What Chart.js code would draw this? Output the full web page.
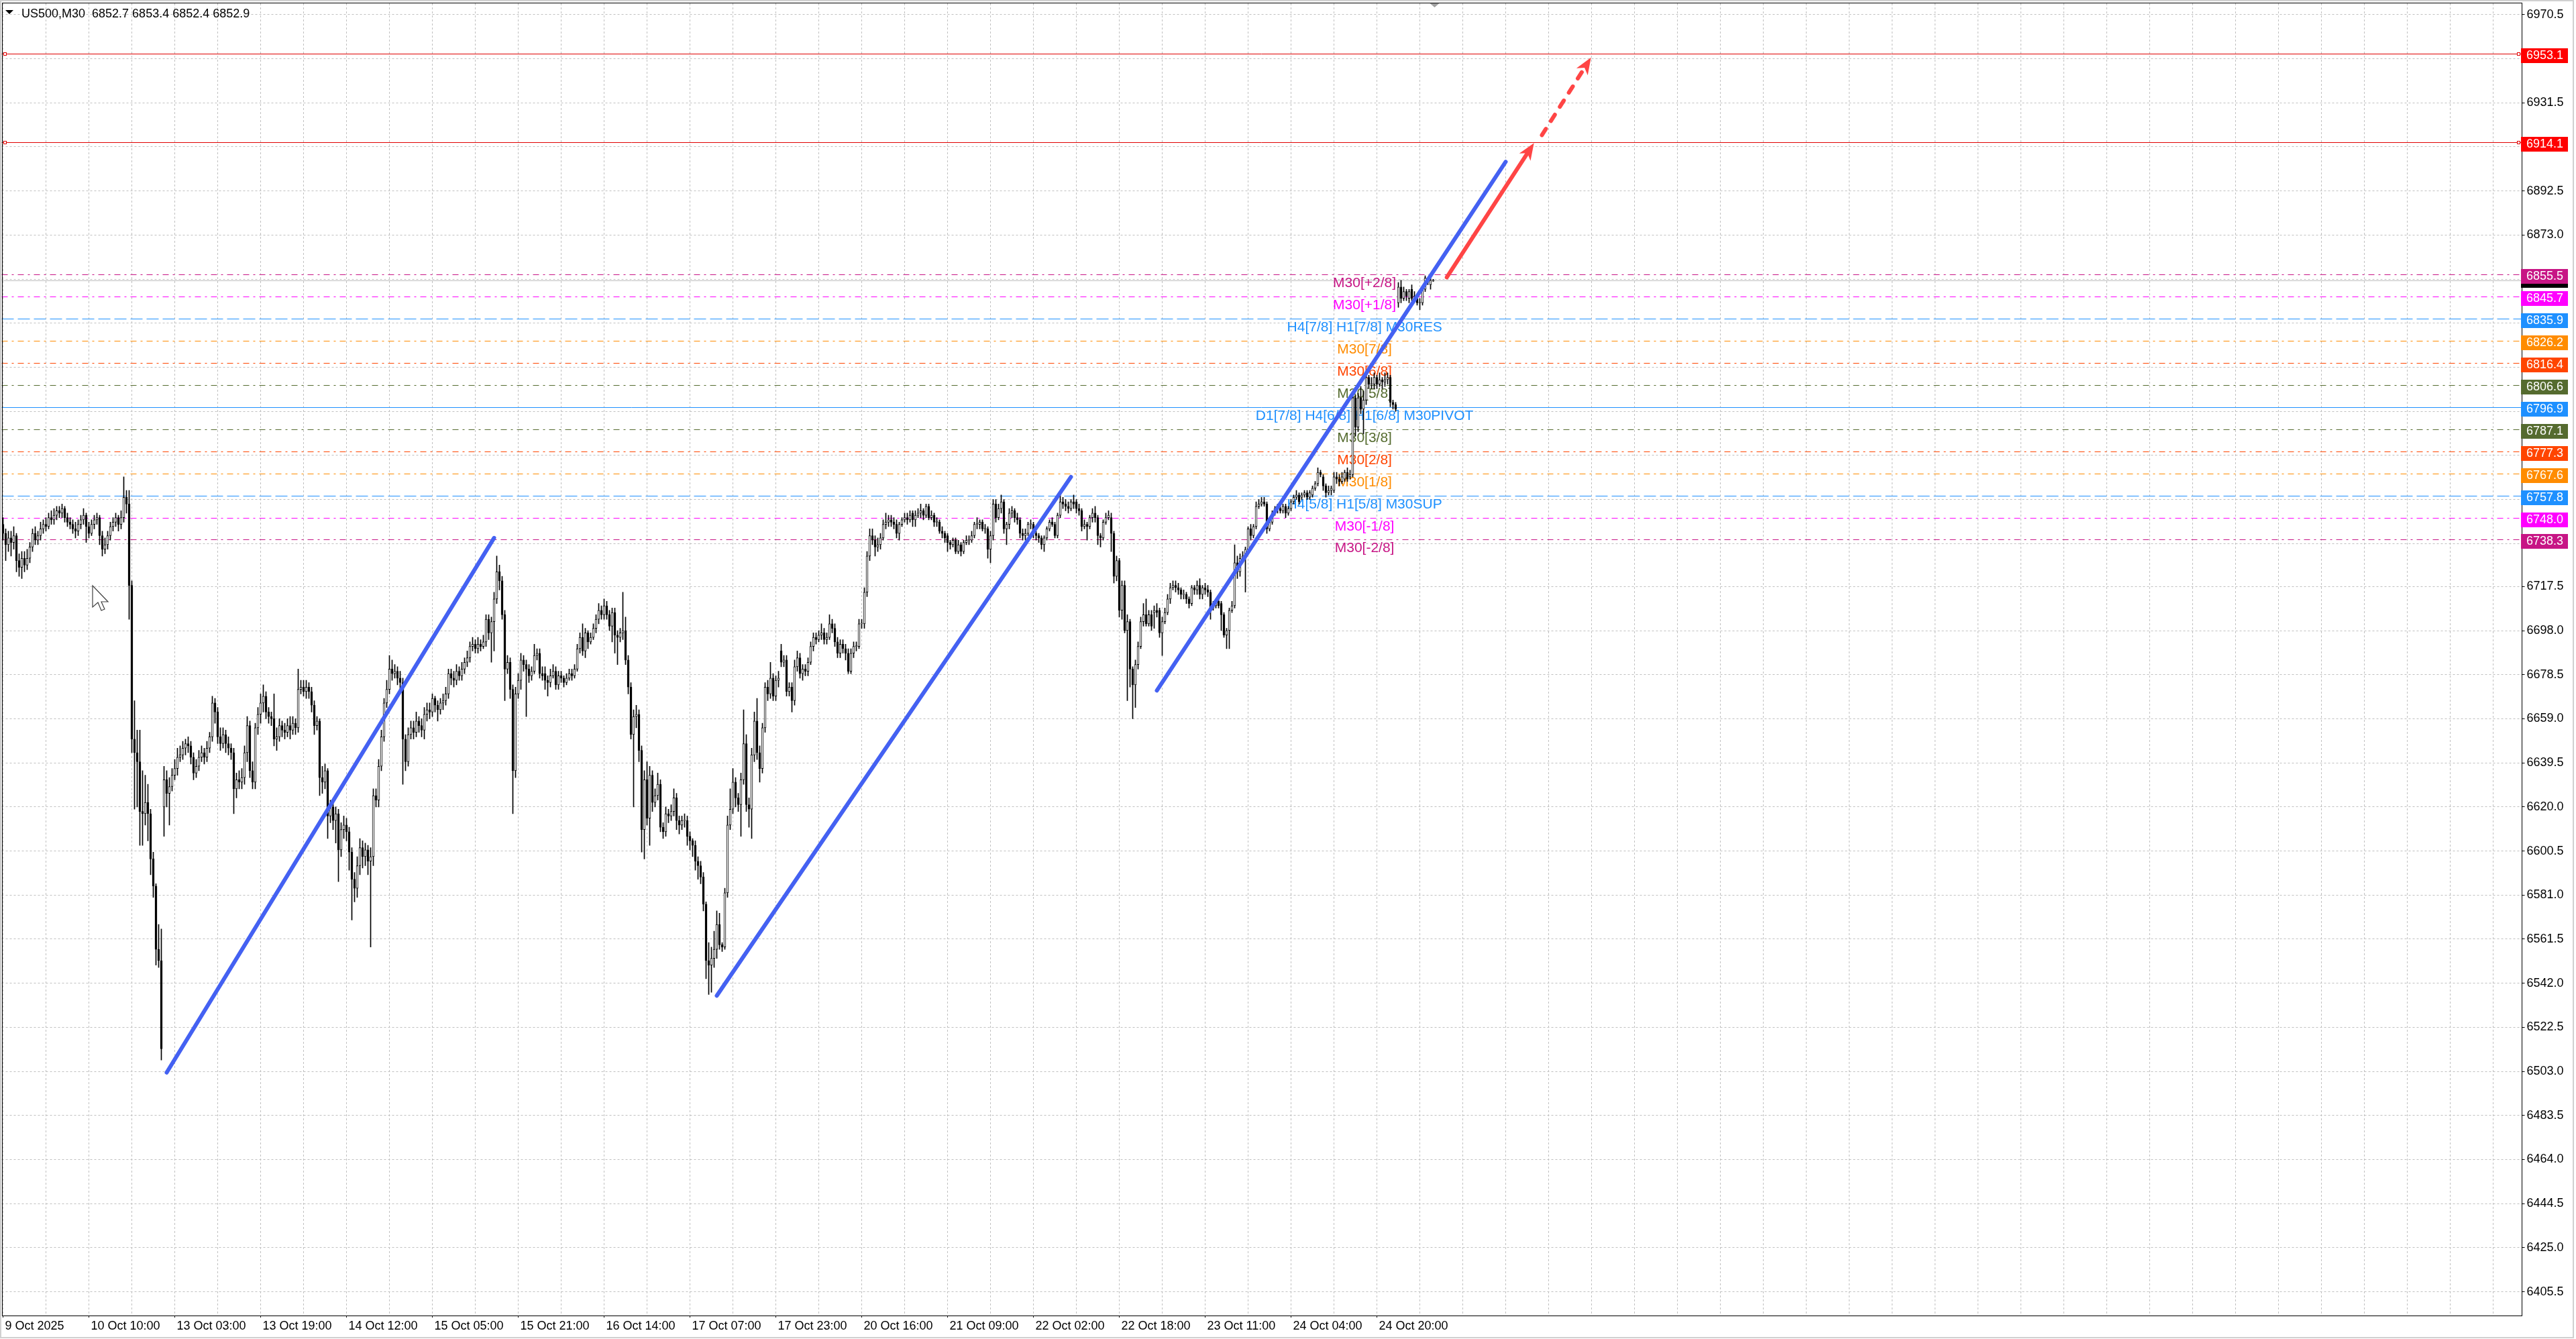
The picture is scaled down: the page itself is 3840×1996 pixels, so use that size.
<!DOCTYPE html>
<html>
<head>
<meta charset="utf-8">
<title>US500,M30</title>
<script src="https://cdn.jsdelivr.net/npm/chart.js@4.4.1/dist/chart.umd.min.js"></script>
<style>
  html, body { margin: 0; padding: 0; background: #ffffff; }
  canvas { display: block; }
</style>
</head>
<body>
<canvas id="priceChart" width="3840" height="1996"></canvas>
<script>
const symbolTitle = 'US500,M30';
const lastQuote = ['6852.7', '6853.4', '6852.4', '6852.9'];

// time labels, one every 32 M30 bars
const timeLabels = ['9 Oct 2025', '10 Oct 10:00', '13 Oct 03:00', '13 Oct 19:00', '14 Oct 12:00', '15 Oct 05:00',
  '15 Oct 21:00', '16 Oct 14:00', '17 Oct 07:00', '17 Oct 23:00', '20 Oct 16:00', '21 Oct 09:00',
  '22 Oct 02:00', '22 Oct 18:00', '23 Oct 11:00', '24 Oct 04:00', '24 Oct 20:00'];
const labelEvery = 32;
const gridEvery = 16;
const slotCount = 939; // bars + empty shift area on the right

const priceTicks = [6405.5, 6425.0, 6444.5, 6464.0, 6483.5, 6503.0, 6522.5, 6542.0, 6561.5, 6581.0,
  6600.5, 6620.0, 6639.5, 6659.0, 6678.5, 6698.0, 6717.5, 6736.5, 6756.0, 6775.5,
  6795.0, 6814.5, 6834.0, 6853.5, 6873.0, 6892.5, 6912.0, 6931.5, 6951.0, 6970.5];

// OHLC of the M30 bars, oldest first
const opens = [
  6745,6741,6736,6739,6737,6740,6729,6726,6730,6727, // 0
  6730,6735,6741,6738,6740,6743,6745,6744,6748,6747,
  6749,6751,6750,6752,6748,6746,6745,6743,6742,6745,
  6747,6749,6744,6741,6745,6747,6748,6740,6734,6736,
  6740,6744,6746,6748,6745,6748,6757,6754,6718,6650,
  6644,6640,6618,6617,6622,6617,6597,6585,6557,6552, // 50
  6620,6632,6626,6629,6634,6637,6642,6643,6646,6648,
  6647,6642,6635,6638,6642,6644,6642,6646,6651,6666,
  6662,6651,6648,6652,6648,6646,6644,6628,6632,6631,
  6633,6644,6656,6636,6631,6655,6661,6666,6669,6662,
  6660,6659,6650,6651,6656,6654,6653,6656,6654,6657, // 100
  6655,6672,6673,6671,6673,6671,6665,6656,6658,6633,
  6631,6636,6616,6620,6614,6617,6601,6610,6612,6609,
  6600,6588,6584,6594,6602,6598,6601,6596,6598,6625,
  6623,6638,6651,6666,6672,6681,6679,6680,6677,6675,
  6650,6640,6652,6655,6653,6658,6656,6654,6661,6663, // 150
  6662,6668,6665,6663,6666,6667,6670,6679,6677,6676,
  6680,6678,6681,6684,6686,6691,6692,6690,6692,6691,
  6693,6703,6697,6702,6712,6724,6720,6705,6681,6684,
  6672,6636,6670,6676,6685,6683,6681,6678,6680,6687,
  6688,6679,6679,6676,6675,6678,6680,6674,6678,6677, // 200
  6675,6677,6679,6678,6681,6690,6695,6689,6697,6693,
  6695,6699,6703,6707,6705,6709,6705,6700,6706,6696,
  6695,6697,6698,6685,6673,6652,6660,6661,6645,6610,
  6632,6615,6634,6622,6625,6630,6611,6609,6617,6616,
  6618,6624,6614,6612,6614,6614,6607,6605,6603,6596, // 250
  6594,6589,6577,6552,6550,6553,6557,6568,6559,6558,
  6582,6612,6619,6631,6624,6621,6632,6648,6621,6619,
  6643,6658,6644,6637,6655,6673,6670,6677,6669,6676,
  6689,6684,6685,6671,6673,6667,6682,6686,6679,6681,
  6680,6684,6691,6695,6694,6696,6697,6694,6695,6701, // 300
  6699,6693,6688,6692,6690,6688,6680,6688,6691,6691,
  6701,6701,6715,6731,6740,6738,6735,6736,6739,6745,
  6746,6747,6746,6745,6741,6745,6747,6748,6747,6750,
  6747,6749,6750,6751,6749,6753,6748,6749,6746,6746,
  6742,6741,6740,6737,6736,6738,6733,6736,6733,6737, // 350
  6738,6738,6740,6745,6745,6746,6743,6743,6734,6740,
  6754,6748,6752,6755,6743,6745,6750,6751,6748,6747,
  6741,6740,6741,6745,6745,6741,6740,6739,6736,6739,
  6743,6746,6745,6740,6749,6755,6754,6753,6752,6755,
  6755,6752,6751,6744,6745,6744,6748,6750,6748,6740, // 400
  6739,6746,6748,6748,6741,6722,6729,6707,6718,6698,
  6702,6681,6674,6683,6691,6702,6705,6701,6705,6706,
  6707,6707,6697,6702,6706,6712,6717,6718,6717,6716,
  6714,6714,6712,6710,6717,6716,6718,6714,6717,6716,
  6715,6708,6709,6711,6710,6705,6696,6698,6707,6709, // 450
  6728,6724,6730,6731,6734,6743,6740,6744,6753,6754,
  6755,6754,6743,6746,6750,6752,6752,6751,6753,6750,
  6752,6755,6757,6758,6757,6758,6759,6757,6758,6761,
  6763,6768,6766,6762,6759,6760,6760,6766,6765,6764,
  6765,6768,6766,6767,6801,6788,6801,6796,6800,6810, // 500
  6807,6807,6810,6807,6809,6808,6809,6810,6799,6798,
  6843,6850,6845,6848,6845,6849,6845,6845,6843,6843,
  6849,6853,6851,6852.7
];
const highs = [
  6748,6743,6742,6742,6744,6741,6732,6733,6733,6734,
  6737,6743,6744,6742,6746,6747,6748,6750,6751,6752,
  6753,6753,6754,6753,6750,6748,6747,6746,6747,6749,
  6752,6750,6746,6747,6749,6750,6749,6742,6739,6742,
  6746,6748,6750,6749,6751,6766,6760,6760,6720,6667,
  6654,6654,6636,6634,6630,6619,6600,6586,6568,6566,
  6638,6636,6633,6637,6641,6646,6647,6649,6650,6651,
  6649,6644,6641,6645,6647,6646,6649,6653,6669,6668,
  6664,6655,6655,6654,6651,6648,6646,6635,6636,6637,
  6647,6660,6658,6640,6657,6664,6670,6674,6671,6664,
  6662,6670,6655,6659,6658,6657,6659,6660,6660,6659,
  6681,6676,6676,6676,6675,6673,6667,6660,6659,6638,
  6639,6637,6623,6622,6620,6619,6613,6616,6615,6611,
  6602,6591,6598,6606,6605,6604,6603,6602,6628,6628,
  6641,6654,6668,6676,6687,6685,6683,6682,6680,6677,
  6652,6655,6658,6658,6662,6660,6659,6664,6666,6666,
  6670,6669,6667,6668,6670,6673,6681,6681,6680,6683,
  6682,6684,6686,6689,6693,6695,6694,6695,6694,6696,
  6705,6705,6704,6715,6731,6727,6722,6707,6687,6686,
  6674,6673,6679,6688,6687,6685,6683,6682,6692,6690,
  6690,6682,6682,6678,6681,6683,6682,6680,6680,6678,
  6679,6681,6681,6683,6692,6697,6701,6699,6698,6697,
  6701,6705,6710,6709,6712,6711,6707,6708,6708,6698,
  6699,6715,6704,6687,6675,6663,6665,6663,6647,6636,
  6640,6638,6636,6628,6635,6632,6613,6620,6619,6621,
  6628,6626,6616,6616,6617,6616,6609,6606,6605,6598,
  6596,6591,6578,6560,6558,6565,6574,6573,6560,6584,
  6616,6628,6637,6633,6626,6635,6663,6652,6624,6646,
  6662,6668,6647,6657,6675,6676,6684,6679,6678,6680,
  6692,6687,6687,6675,6675,6685,6689,6688,6683,6683,
  6686,6693,6697,6697,6698,6701,6699,6697,6705,6703,
  6701,6695,6694,6694,6692,6690,6690,6693,6693,6703,
  6703,6717,6733,6743,6743,6740,6739,6741,6747,6750,
  6749,6749,6748,6747,6746,6748,6750,6750,6751,6751,
  6751,6752,6754,6752,6754,6754,6751,6750,6748,6747,
  6744,6742,6741,6738,6739,6739,6738,6737,6738,6740,
  6740,6742,6746,6748,6747,6747,6745,6744,6742,6756,
  6756,6754,6758,6756,6746,6752,6753,6752,6750,6748,
  6743,6743,6746,6747,6746,6742,6741,6740,6740,6744,
  6747,6748,6746,6750,6758,6757,6756,6755,6756,6758,
  6756,6754,6752,6747,6746,6749,6752,6753,6749,6741,
  6747,6750,6751,6750,6742,6731,6730,6720,6720,6705,
  6703,6682,6685,6693,6704,6710,6712,6707,6707,6709,
  6710,6708,6704,6708,6714,6719,6720,6720,6719,6717,
  6716,6715,6713,6718,6718,6720,6721,6718,6719,6718,
  6716,6711,6712,6712,6711,6706,6699,6708,6711,6736,
  6731,6732,6733,6735,6744,6745,6745,6755,6756,6757,
  6757,6755,6748,6751,6753,6754,6753,6754,6754,6753,
  6756,6758,6760,6759,6759,6760,6760,6760,6762,6764,
  6770,6769,6767,6763,6762,6762,6768,6768,6767,6768,
  6769,6770,6769,6803,6802,6803,6806,6804,6812,6811,
  6810,6812,6811,6812,6810,6812,6812,6811,6800,6799,
  6852,6853,6850,6849,6849,6851,6848,6846,6845,6850,
  6855,6854,6854,6853.4
];
const lows = [
  6738,6729,6733,6731,6734,6724,6722,6721,6724,6725,
  6728,6733,6736,6736,6738,6741,6742,6743,6745,6745,
  6747,6748,6748,6746,6744,6743,6741,6739,6740,6743,
  6745,6737,6739,6740,6743,6745,6736,6731,6732,6734,
  6738,6742,6744,6742,6743,6746,6750,6703,6644,6619,
  6620,6603,6603,6612,6605,6590,6580,6550,6549,6508,
  6607,6620,6612,6627,6632,6634,6640,6641,6643,6644,
  6639,6632,6633,6636,6640,6639,6640,6644,6649,6657,
  6648,6645,6646,6644,6643,6641,6617,6624,6628,6628,
  6630,6640,6633,6628,6628,6652,6657,6662,6659,6657,
  6656,6647,6645,6649,6651,6650,6651,6650,6652,6652,
  6653,6670,6669,6668,6668,6662,6652,6654,6625,6626,
  6628,6606,6613,6610,6604,6587,6598,6606,6605,6592,
  6570,6578,6580,6590,6593,6594,6590,6558,6594,6620,
  6620,6636,6649,6664,6670,6676,6677,6674,6672,6630,
  6636,6638,6650,6650,6651,6653,6651,6650,6658,6659,
  6660,6662,6658,6661,6663,6665,6668,6674,6673,6674,
  6676,6676,6679,6682,6684,6689,6688,6688,6689,6690,
  6691,6694,6684,6689,6710,6716,6703,6667,6679,6668,
  6617,6633,6668,6672,6680,6660,6675,6676,6679,6685,
  6677,6676,6672,6669,6673,6677,6672,6672,6675,6673,
  6674,6676,6676,6677,6680,6688,6687,6686,6690,6692,
  6694,6697,6701,6703,6703,6703,6698,6693,6688,6683,
  6693,6694,6683,6670,6650,6620,6655,6640,6600,6597,
  6612,6603,6618,6620,6623,6609,6606,6607,6613,6614,
  6616,6610,6608,6610,6611,6603,6601,6598,6592,6588,
  6586,6574,6544,6537,6538,6549,6553,6557,6556,6557,
  6580,6610,6617,6620,6618,6607,6630,6618,6611,6606,
  6640,6641,6631,6635,6653,6667,6668,6667,6667,6673,
  6682,6682,6669,6669,6662,6665,6680,6677,6676,6678,
  6678,6683,6689,6692,6693,6694,6692,6692,6694,6697,
  6691,6686,6686,6688,6685,6679,6679,6686,6689,6690,
  6699,6699,6713,6729,6736,6731,6733,6734,6738,6743,
  6744,6744,6743,6739,6738,6744,6746,6745,6746,6744,
  6744,6748,6748,6747,6748,6747,6747,6744,6744,6741,
  6739,6737,6733,6734,6735,6732,6732,6731,6732,6736,
  6736,6737,6739,6743,6743,6742,6741,6730,6728,6738,
  6746,6747,6750,6741,6736,6743,6748,6746,6745,6739,
  6738,6738,6740,6743,6739,6738,6737,6734,6733,6738,
  6742,6744,6739,6739,6748,6752,6751,6750,6751,6752,
  6750,6749,6742,6743,6738,6743,6746,6746,6736,6735,
  6738,6745,6747,6733,6719,6720,6704,6703,6697,6667,
  6673,6659,6664,6681,6690,6700,6700,6700,6698,6699,
  6704,6695,6687,6701,6705,6710,6716,6715,6714,6712,
  6712,6710,6708,6709,6714,6714,6712,6712,6714,6713,
  6703,6707,6708,6708,6698,6695,6690,6690,6706,6708,
  6721,6722,6728,6715,6733,6738,6739,6743,6752,6753,
  6753,6741,6742,6745,6749,6750,6750,6750,6748,6749,
  6751,6754,6756,6754,6756,6757,6756,6756,6757,6760,
  6762,6766,6760,6757,6758,6758,6759,6763,6762,6763,
  6764,6764,6765,6766,6784,6786,6794,6785,6798,6805,
  6805,6805,6805,6806,6805,6806,6807,6797,6796,6795,
  6841,6843,6844,6844,6843,6844,6844,6842,6840,6842,
  6848,6851,6849,6852.4
];
const closes = [
  6741,6736,6739,6737,6740,6729,6726,6730,6727,6730,
  6735,6741,6738,6740,6743,6745,6744,6748,6747,6749,
  6751,6750,6752,6748,6746,6745,6743,6742,6745,6747,
  6749,6744,6741,6745,6747,6748,6740,6734,6736,6740,
  6744,6746,6748,6745,6748,6757,6754,6718,6650,6644,
  6640,6618,6617,6622,6617,6597,6585,6557,6552,6513,
  6632,6626,6629,6634,6637,6642,6643,6646,6648,6647,
  6642,6635,6638,6642,6644,6642,6646,6651,6666,6662,
  6651,6648,6652,6648,6646,6644,6628,6632,6631,6633,
  6644,6656,6636,6631,6655,6661,6666,6669,6662,6660,
  6659,6650,6651,6656,6654,6653,6656,6654,6657,6655,
  6672,6673,6671,6673,6671,6665,6656,6658,6633,6631,
  6636,6616,6620,6614,6617,6601,6610,6612,6609,6600,
  6588,6584,6594,6602,6598,6601,6596,6598,6625,6623,
  6638,6651,6666,6672,6681,6679,6680,6677,6675,6650,
  6640,6652,6655,6653,6658,6656,6654,6661,6663,6662,
  6668,6665,6663,6666,6667,6670,6679,6677,6676,6680,
  6678,6681,6684,6686,6691,6692,6690,6692,6691,6693,
  6703,6697,6702,6712,6724,6720,6705,6681,6684,6672,
  6636,6670,6676,6685,6683,6681,6678,6680,6687,6688,
  6679,6678,6676,6675,6678,6680,6674,6678,6677,6675,
  6677,6679,6678,6681,6690,6695,6689,6697,6693,6695,
  6699,6703,6707,6705,6709,6705,6700,6706,6696,6695,
  6697,6698,6685,6673,6652,6660,6661,6645,6610,6632,
  6615,6634,6622,6625,6630,6611,6609,6617,6616,6618,
  6624,6614,6612,6614,6614,6607,6605,6603,6596,6594,
  6589,6577,6552,6550,6553,6557,6568,6559,6558,6582,
  6612,6619,6631,6624,6621,6632,6648,6621,6619,6643,
  6658,6644,6637,6655,6673,6670,6677,6669,6676,6677,
  6684,6685,6671,6673,6667,6682,6686,6679,6681,6680,
  6684,6691,6695,6694,6696,6697,6694,6695,6701,6699,
  6693,6688,6692,6690,6688,6680,6688,6691,6691,6701,
  6701,6715,6731,6740,6738,6735,6736,6739,6745,6746,
  6747,6746,6745,6741,6745,6747,6748,6747,6749,6747,
  6749,6750,6751,6749,6753,6748,6749,6746,6746,6742,
  6741,6739,6737,6736,6738,6733,6736,6733,6737,6738,
  6738,6740,6745,6745,6746,6743,6743,6734,6740,6754,
  6748,6752,6755,6743,6745,6750,6751,6748,6747,6741,
  6740,6741,6745,6745,6741,6740,6739,6736,6739,6743,
  6746,6745,6740,6749,6755,6754,6753,6752,6755,6754,
  6752,6751,6744,6745,6744,6748,6750,6748,6740,6739,
  6746,6748,6749,6741,6722,6729,6707,6718,6698,6702,
  6681,6674,6683,6691,6702,6705,6701,6705,6700,6707,
  6706,6697,6702,6706,6712,6717,6718,6717,6716,6714,
  6714,6712,6710,6717,6716,6718,6714,6717,6716,6715,
  6708,6709,6711,6709,6705,6696,6698,6707,6709,6728,
  6724,6730,6731,6734,6743,6740,6744,6753,6754,6755,
  6754,6743,6746,6750,6752,6752,6751,6753,6750,6752,
  6755,6757,6758,6755,6758,6759,6757,6759,6761,6763,
  6768,6767,6762,6759,6760,6761,6766,6765,6764,6766,
  6768,6765,6767,6801,6788,6801,6796,6800,6810,6807,
  6807,6810,6807,6809,6808,6809,6810,6799,6798,6796,
  6850,6845,6848,6846,6848,6845,6846,6843,6843,6849,
  6854,6852,6853,6852.9
];

// Murrey Math levels
const levelPrices = [6855.5, 6845.7, 6835.9, 6826.2, 6816.4, 6806.6, 6796.9, 6787.1, 6777.3, 6767.6, 6757.8, 6748.0, 6738.3];
const levelNames = ['M30[+2/8]', 'M30[+1/8]', 'H4[7/8] H1[7/8] M30RES', 'M30[7/8]', 'M30[6/8]', 'M30[5/8]',
  'D1[7/8] H4[6/8] H1[6/8] M30PIVOT', 'M30[3/8]', 'M30[2/8]', 'M30[1/8]', 'H4[5/8] H1[5/8] M30SUP', 'M30[-1/8]', 'M30[-2/8]'];
const levelColors = ['#C71585', '#FF00FF', '#1E90FF', '#FF8C00', '#FF4500', '#556B2F', '#1E90FF',
  '#556B2F', '#FF4500', '#FF8C00', '#1E90FF', '#FF00FF', '#C71585'];
const levelStyles = ['dashdot', 'dashdot', 'dash', 'dashdot', 'dashdot', 'dashdot', 'solid',
  'dashdot', 'dashdot', 'dashdot', 'dash', 'dashdot', 'dashdot'];
const levelLabelBar = 507.4;

// red target lines
const targetPrices = [6953.1, 6914.1];

// blue trend lines [bar, price]
const trendFrom = [[61, 6502.5], [266, 6536.5], [430, 6671.5]];
const trendTo = [[183, 6739.0], [398, 6766.0], [560, 6905.4]];

// red projection arrows [bar, price]
const solidArrow = [[538.05, 6854.3], [570.55, 6913.7]];
const dashedArrow = [[573.5, 6917.2], [591.8, 6951.5]];

const fontFamily = '"Liberation Sans", Arial, sans-serif';
const dashPatterns = { solid: [], dash: [18, 6], dashdot: [9, 6, 3, 6] };
const lastClose = closes[closes.length - 1];

const slots = Array.from({ length: slotCount }, (_, i) => i);
const wickData = lows.map((l, i) => [l, highs[i]]);
const bodyData = opens.map((o, i) => [o, closes[i]]);

const tagPrices = levelPrices.concat(targetPrices, [lastClose]);

function drawTag(ctx, yPix, bg, text, shift) {
    const top = Math.round(yPix) + shift - 11;
    ctx.fillStyle = bg;
    ctx.fillRect(3758, top, 70, 22);
    ctx.fillStyle = '#ffffff';
    ctx.fillText(text, 3766, top + 11.5);
}

function drawArrow(ctx, x1, y1, x2, y2, dash) {
    const ang = Math.atan2(y2 - y1, x2 - x1);
    const c = Math.cos(ang), s = Math.sin(ang);
    const headLen = 22, headHalf = 10;
    const bx = x2 - headLen * c, by = y2 - headLen * s;
    ctx.setLineDash(dash);
    ctx.beginPath();
    ctx.moveTo(x1, y1);
    ctx.lineTo(bx + 4 * c, by + 4 * s);
    ctx.stroke();
    ctx.setLineDash([]);
    ctx.beginPath();
    ctx.moveTo(x2, y2);
    ctx.lineTo(bx - 3 * c + headHalf * s, by - 3 * s - headHalf * c);
    ctx.lineTo(bx + 4 * c, by + 4 * s);
    ctx.lineTo(bx - 3 * c - headHalf * s, by - 3 * s + headHalf * c);
    ctx.closePath();
    ctx.fill();
}

const overlayPlugin = {
    id: 'overlay',
    beforeDraw(chart) {
        const ctx = chart.ctx;
        ctx.save();
        ctx.fillStyle = '#ffffff';
        ctx.fillRect(0, 0, chart.width, chart.height);
        ctx.restore();
    },
    beforeDatasetsDraw(chart) {
        const { ctx, chartArea: a, scales: { x, y } } = chart;
        ctx.save();
        ctx.lineWidth = 1;

        // bid line
        let py = Math.round(y.getPixelForValue(lastClose)) + 0.5;
        ctx.strokeStyle = '#C0C0C0';
        ctx.beginPath(); ctx.moveTo(a.left, py); ctx.lineTo(a.right, py); ctx.stroke();

        levelPrices.forEach((p, i) => {
            py = Math.round(y.getPixelForValue(p)) + 0.5;
            ctx.strokeStyle = levelColors[i];
            ctx.setLineDash(dashPatterns[levelStyles[i]]);
            ctx.beginPath(); ctx.moveTo(a.left, py); ctx.lineTo(a.right, py); ctx.stroke();
        });
        ctx.setLineDash([]);

        ctx.font = '21px ' + fontFamily;
        ctx.textAlign = 'center';
        ctx.textBaseline = 'alphabetic';
        const lx = x.getPixelForValue(levelLabelBar);
        levelPrices.forEach((p, i) => {
            ctx.fillStyle = levelColors[i];
            ctx.fillText(levelNames[i], lx, y.getPixelForValue(p) + 19);
        });

        // target lines with end markers
        targetPrices.forEach(p => {
            py = Math.round(y.getPixelForValue(p)) + 0.5;
            ctx.strokeStyle = '#E00000';
            ctx.beginPath(); ctx.moveTo(a.left, py); ctx.lineTo(a.right, py); ctx.stroke();
            ctx.fillStyle = '#ffffff';
            [a.left + 3, a.right - 6].forEach(sx => {
                ctx.fillRect(sx, py - 2, 4, 4);
                ctx.strokeRect(sx, py - 2, 4, 4);
            });
        });
        ctx.restore();
    },
    afterDatasetsDraw(chart) {
        const { ctx, chartArea: a, scales: { x, y } } = chart;
        ctx.save();
        ctx.beginPath();
        ctx.rect(a.left, a.top, a.right - a.left, a.bottom - a.top);
        ctx.clip();
        ctx.strokeStyle = '#FF4545';
        ctx.fillStyle = '#FF4545';
        ctx.lineWidth = 6;
        ctx.lineCap = 'round';
        const px = pt => [x.getPixelForValue(pt[0]), y.getPixelForValue(pt[1])];
        let p1 = px(solidArrow[0]), p2 = px(solidArrow[1]);
        drawArrow(ctx, p1[0], p1[1], p2[0], p2[1], []);
        p1 = px(dashedArrow[0]); p2 = px(dashedArrow[1]);
        drawArrow(ctx, p1[0], p1[1], p2[0], p2[1], [11, 14]);
        ctx.restore();
    },
    afterDraw(chart) {
        const { ctx, chartArea: a, scales: { x, y } } = chart;
        ctx.save();

        // outer and plot frames
        ctx.strokeStyle = '#D0D0D0';
        ctx.lineWidth = 2;
        ctx.strokeRect(1, 1, 3835, 1993);
        ctx.strokeStyle = '#000000';
        ctx.lineWidth = 1;
        ctx.strokeRect(Math.round(a.left) + 0.5, Math.round(a.top) - 0.5,
            Math.round(a.right - a.left), Math.round(a.bottom - a.top) + 1);

        // chart shift marker
        const sx = x.getPixelForValue(closes.length - 0.5);
        ctx.fillStyle = '#A0A0A0';
        ctx.beginPath();
        ctx.moveTo(sx - 7, 5); ctx.lineTo(sx + 7, 5); ctx.lineTo(sx, 11); ctx.closePath();
        ctx.fill();

        // price tags on the axis
        ctx.font = '18px ' + fontFamily;
        ctx.textAlign = 'left';
        ctx.textBaseline = 'middle';
        drawTag(ctx, y.getPixelForValue(lastClose), '#000000', lastQuote[3], 0);
        levelPrices.forEach((p, i) => drawTag(ctx, y.getPixelForValue(p), levelColors[i], p.toFixed(1), 3));
        targetPrices.forEach(p => drawTag(ctx, y.getPixelForValue(p), '#FF0000', p.toFixed(1), 3));

        // header
        ctx.fillStyle = '#000000';
        ctx.beginPath();
        ctx.moveTo(8, 15); ctx.lineTo(20, 15); ctx.lineTo(14, 21); ctx.closePath();
        ctx.fill();
        ctx.textBaseline = 'alphabetic';
        ctx.fillText(symbolTitle + '  ' + lastQuote.join(' '), 32, 26);

        // mouse pointer left on the chart
        const cx = 138, cy = 873;
        ctx.beginPath();
        ctx.moveTo(cx, cy);
        ctx.lineTo(cx, cy + 32);
        ctx.lineTo(cx + 8, cy + 25);
        ctx.lineTo(cx + 13, cy + 37);
        ctx.lineTo(cx + 18, cy + 35);
        ctx.lineTo(cx + 13, cy + 24);
        ctx.lineTo(cx + 23, cy + 24);
        ctx.closePath();
        ctx.fillStyle = '#ffffff';
        ctx.fill();
        ctx.strokeStyle = '#404040';
        ctx.lineWidth = 1.2;
        ctx.stroke();
        ctx.restore();
    }
};

const trendSets = trendFrom.map((f, k) => ({
    type: 'line',
    data: [{ x: f[0], y: f[1] }, { x: trendTo[k][0], y: trendTo[k][1] }],
    borderColor: '#4461F2',
    borderWidth: 6,
    borderCapStyle: 'round',
    pointRadius: 0,
    tension: 0,
    fill: false,
    order: 0
}));

const priceChart = new Chart(document.getElementById('priceChart').getContext('2d'), {
    type: 'bar',
    data: {
        labels: slots,
        datasets: [
            ...trendSets,
            {
                label: 'body',
                data: bodyData,
                barThickness: 3,
                minBarLength: 1,
                grouped: false,
                backgroundColor: c => closes[c.dataIndex] >= opens[c.dataIndex] ? '#ffffff' : '#000000',
                borderColor: '#000000',
                borderWidth: 1,
                borderSkipped: false,
                order: 1
            },
            {
                label: 'wick',
                data: wickData,
                barThickness: 1,
                grouped: false,
                backgroundColor: '#000000',
                borderWidth: 0,
                order: 2
            }
        ]
    },
    options: {
        responsive: false,
        devicePixelRatio: 1,
        animation: false,
        events: [],
        layout: { padding: { left: 2.5, top: 5, right: 0, bottom: 0 } },
        plugins: { legend: { display: false }, tooltip: { enabled: false } },
        scales: {
            x: {
                type: 'category',
                offset: true,
                afterFit: s => { s.height = 35; s.paddingLeft = 0; s.paddingRight = 0; },
                grid: {
                    offset: false,
                    color: c => c.index % gridEvery === 0 ? '#C0C0C0' : 'rgba(0,0,0,0)',
                    tickColor: c => (c.index % labelEvery === 0 && c.index / labelEvery < timeLabels.length) ? '#000000' : 'rgba(0,0,0,0)',
                    tickLength: 3,
                    tickBorderDash: []
                },
                border: { display: false, dash: [3, 3] },
                ticks: {
                    autoSkip: false,
                    maxRotation: 0,
                    minRotation: 0,
                    align: 'start',
                    labelOffset: 3,
                    padding: 2,
                    color: '#000000',
                    font: { family: fontFamily, size: 18 },
                    callback: (v, i) => i % labelEvery === 0 ? (timeLabels[i / labelEvery] || '') : ''
                }
            },
            y: {
                position: 'right',
                min: 6395,
                max: 6975.5,
                afterBuildTicks: s => { s.ticks = priceTicks.map(v => ({ value: v })); },
                afterFit: s => { s.width = 81.5; s.paddingTop = 0; s.paddingBottom = 0; },
                grid: { color: '#C0C0C0', tickColor: '#000000', tickLength: 5, tickBorderDash: [] },
                border: { display: false, dash: [3, 3] },
                ticks: {
                    padding: 3,
                    color: '#000000',
                    font: { family: fontFamily, size: 18 },
                    callback: v => tagPrices.some(p => Math.abs(p - v) < 7) ? '' : v.toFixed(1)
                }
            }
        }
    },
    plugins: [overlayPlugin]
});
</script>
</body>
</html>
